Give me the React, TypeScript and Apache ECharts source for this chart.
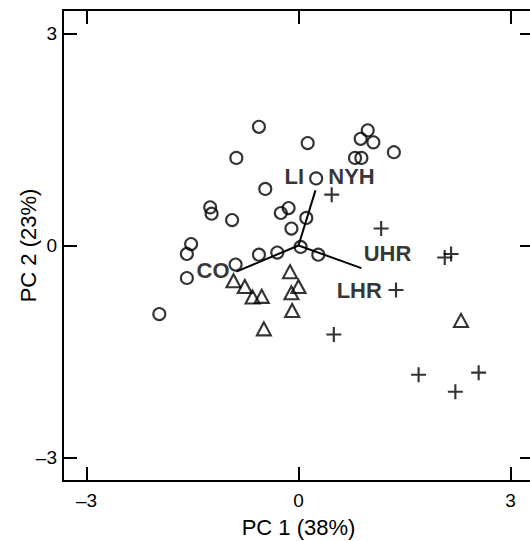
import React, { useEffect, useRef } from "react";
import * as echarts from "echarts";

// PCA scores, group 1 (circles)
const circlePoints: [number, number][] = [
  [-0.56, 1.68], [0.13, 1.45], [-0.88, 1.24], [0.98, 1.63], [0.88, 1.51],
  [1.06, 1.46], [1.35, 1.32], [0.8, 1.24], [0.89, 1.24], [0.25, 0.95],
  [-0.47, 0.8], [-1.25, 0.54], [-1.23, 0.45], [-0.94, 0.36], [-0.25, 0.46],
  [-0.14, 0.53], [0.11, 0.39], [-0.1, 0.24], [-1.52, 0.02], [-1.58, -0.12],
  [-1.58, -0.46], [-1.97, -0.97], [-0.89, -0.27], [-0.56, -0.13], [-0.3, -0.1],
  [0.03, -0.02], [0.28, -0.13],
];
// group 2 (triangles)
const trianglePoints: [number, number][] = [
  [-0.92, -0.5], [-0.76, -0.58], [-0.65, -0.73], [-0.52, -0.72], [-0.12, -0.37],
  [0.0, -0.58], [-0.1, -0.67], [-0.09, -0.92], [-0.49, -1.18], [2.3, -1.06],
];
// group 3 (crosses)
const plusPoints: [number, number][] = [
  [0.47, 0.72], [1.17, 0.24], [2.07, -0.17], [2.16, -0.12], [1.38, -0.63],
  [0.5, -1.26], [1.7, -1.83], [2.55, -1.8], [2.22, -2.07],
];
// loading vectors (end points, from origin)
const loadingEnds: [number, number][] = [
  [0.24, 0.78], [-0.88, -0.37], [0.89, -0.32],
];
// loading labels
const loadingNames = ["LI", "NYH", "UHR", "LHR", "CO"];
const loadingLabelPos: [number, number][] = [
  [-0.06, 0.97], [0.75, 0.97], [1.26, -0.11], [0.86, -0.63], [-1.21, -0.35],
];
const tickValues = [-3, 0, 3];
const axisRange = [-10 / 3, 10 / 3];
const xTitle = "PC 1 (38%)";
const yTitle = "PC 2 (23%)";

const FONT = "'Liberation Sans', Arial, Helvetica, sans-serif";
const PLUS_PATH = "path://M6,0H8V6H14V8H8V14H6V8H0V6H6Z";

function fmt(v: number) {
  return v < 0 ? "\u2013" + Math.abs(v) : String(v);
}

export default function App() {
  const ref = useRef<HTMLDivElement>(null);
  useEffect(() => {
    if (!ref.current) return;
    const chart = echarts.init(ref.current, undefined, { renderer: "svg" });
    const frameAxis = (extra: any) => ({
      min: axisRange[0],
      max: axisRange[1],
      axisLine: { show: true, onZero: false, lineStyle: { color: "#000", width: 2 } },
      axisTick: {
        show: true,
        inside: true,
        length: 14,
        customValues: tickValues,
        lineStyle: { color: "#000", width: 2 },
      },
      splitLine: { show: false },
      ...extra,
    });
    const hollow = { color: "rgba(0,0,0,0)", borderColor: "#000", borderWidth: 2.1 };
    chart.setOption({
      animation: false,
      backgroundColor: "#fff",
      grid: {
        left: 63,
        top: 10,
        width: 471,
        height: 471,
        containLabel: false,
        outerBoundsMode: "none",
      },
      xAxis: [
        frameAxis({
          type: "value",
          position: "bottom",
          name: xTitle,
          nameLocation: "middle",
          nameGap: 35,
          nameMoveOverlap: false,
          nameTextStyle: { fontFamily: FONT, fontSize: 22, color: "#000" },
          axisLabel: {
            show: true,
            customValues: tickValues,
            formatter: fmt,
            margin: 10,
            fontFamily: FONT,
            fontSize: 19,
            color: "#000",
          },
        }),
        frameAxis({ type: "value", position: "top", axisLabel: { show: false } }),
      ],
      yAxis: [
        frameAxis({
          type: "value",
          position: "left",
          name: yTitle,
          nameLocation: "middle",
          nameGap: 24,
          nameMoveOverlap: false,
          nameTextStyle: { fontFamily: FONT, fontSize: 22, color: "#000" },
          axisLabel: {
            show: true,
            customValues: tickValues,
            formatter: fmt,
            margin: 6,
            fontFamily: FONT,
            fontSize: 19,
            color: "#000",
          },
        }),
        frameAxis({ type: "value", position: "right", axisLabel: { show: false } }),
      ],
      series: [
        ...loadingEnds.map((end) => ({
          type: "line",
          silent: true,
          symbol: "none",
          data: [[0, 0], end],
          lineStyle: { color: "#000", width: 2 },
          z: 3,
        })),
        {
          type: "scatter",
          silent: true,
          symbol: "circle",
          symbolSize: 12,
          itemStyle: hollow,
          data: circlePoints,
          z: 2,
        },
        {
          type: "scatter",
          silent: true,
          symbol: "triangle",
          symbolSize: [14, 13],
          itemStyle: hollow,
          data: trianglePoints,
          z: 2,
        },
        {
          type: "scatter",
          silent: true,
          symbol: PLUS_PATH,
          symbolSize: 15,
          itemStyle: { color: "#000" },
          data: plusPoints,
          z: 2,
        },
        {
          type: "scatter",
          silent: true,
          symbolSize: 1,
          itemStyle: { color: "rgba(0,0,0,0)" },
          data: loadingNames.map((n, i) => ({ name: n, value: loadingLabelPos[i] })),
          label: {
            show: true,
            position: "inside",
            formatter: (p: any) => p.name,
            fontFamily: FONT,
            fontSize: 22,
            fontWeight: "bold",
            color: "#000",
            textBorderWidth: 0,
            textBorderColor: "transparent",
          },
          z: 4,
        },
      ],
    });
    return () => chart.dispose();
  }, []);
  return (
    <div
      style={{
        position: "fixed",
        left: 0,
        top: 0,
        width: 530,
        height: 541,
        overflow: "hidden",
        background: "#fff",
      }}
    >
      <div ref={ref} style={{ width: 545, height: 541 }} />
    </div>
  );
}
